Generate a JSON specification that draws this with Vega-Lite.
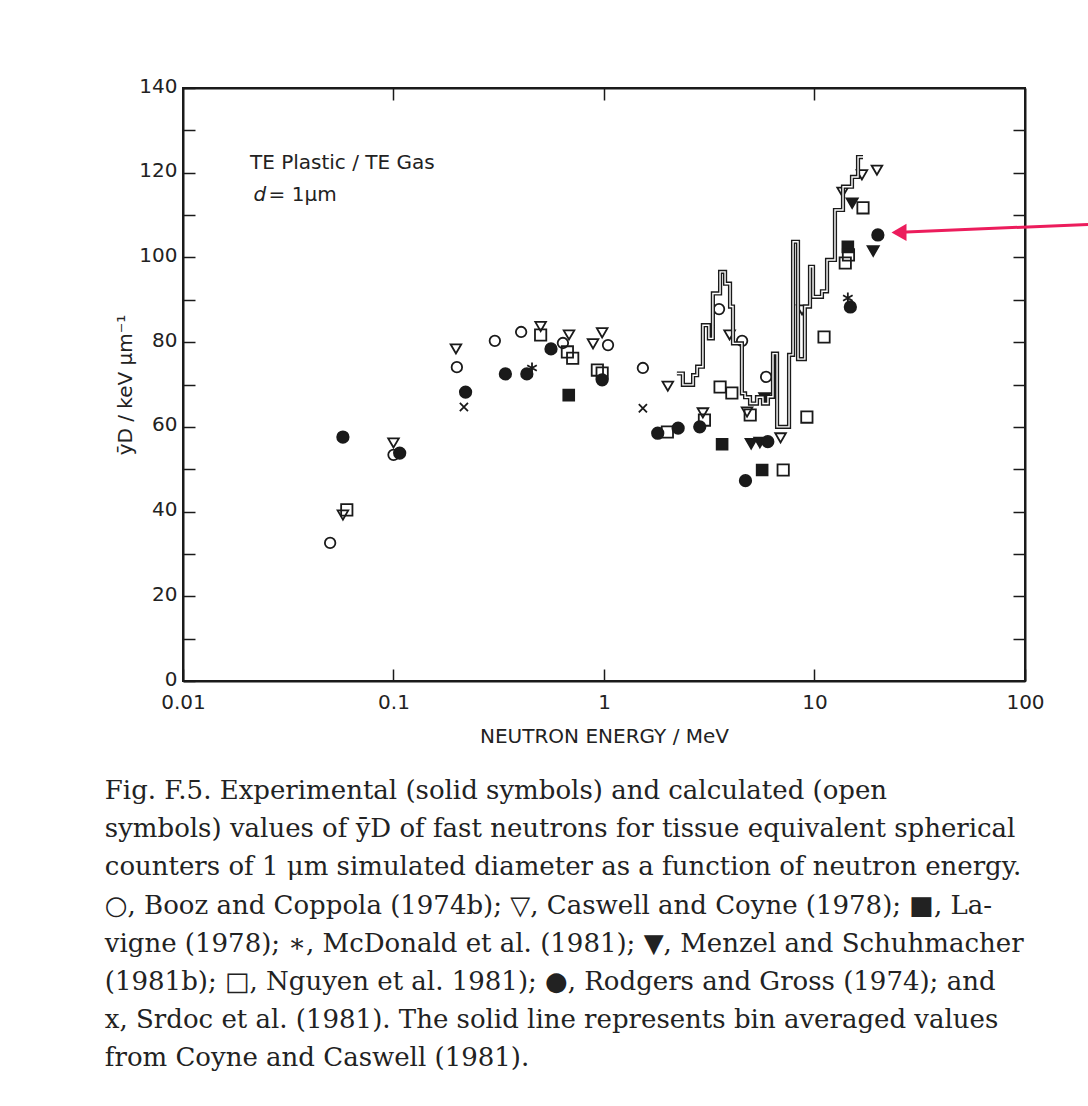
{
  "$schema": "https://vega.github.io/schema/vega-lite/v6.json",
  "width": 842,
  "height": 593,
  "autosize": "none",
  "padding": {"left": 183, "top": 88, "right": 63, "bottom": 425},
  "background": "white",
  "config": {
    "view": {"stroke": "#1a1a1a", "strokeWidth": 2},
    "font": "DejaVu Sans"
  },
  "title": {
    "text": [
      "Fig. F.5.   Experimental (solid symbols) and calculated (open",
      "symbols) values of ȳD of fast neutrons for tissue equivalent spherical",
      "counters of 1 μm simulated diameter as a function of neutron energy.",
      "○, Booz and Coppola (1974b); ▽, Caswell and Coyne (1978); ■, La-",
      "vigne (1978); ∗, McDonald et al. (1981); ▼, Menzel and Schuhmacher",
      "(1981b); □, Nguyen et al. 1981); ●, Rodgers and Gross (1974); and",
      "x, Srdoc et al. (1981). The solid line represents bin averaged values",
      "from Coyne and Caswell (1981)."
    ],
    "orient": "bottom",
    "anchor": "start",
    "dx": -11,
    "offset": 32,
    "font": "DejaVu Serif",
    "fontSize": 26,
    "fontWeight": "normal",
    "lineHeight": 38.2,
    "color": "#222222"
  },
  "datasets": {
    "points": [
      {"E": 0.05, "v": 32.6, "s": "Booz"},
      {"E": 0.1, "v": 53.4, "s": "Booz"},
      {"E": 0.2, "v": 74.1, "s": "Booz"},
      {"E": 0.303, "v": 80.3, "s": "Booz"},
      {"E": 0.404, "v": 82.4, "s": "Booz"},
      {"E": 0.638, "v": 79.8, "s": "Booz"},
      {"E": 1.045, "v": 79.3, "s": "Booz"},
      {"E": 1.53, "v": 73.9, "s": "Booz"},
      {"E": 3.52, "v": 87.8, "s": "Booz"},
      {"E": 4.53, "v": 80.3, "s": "Booz"},
      {"E": 5.89, "v": 71.8, "s": "Booz"},
      {"E": 0.0575, "v": 39.2, "s": "Caswell"},
      {"E": 0.1, "v": 56.2, "s": "Caswell"},
      {"E": 0.198, "v": 78.4, "s": "Caswell"},
      {"E": 0.5, "v": 83.7, "s": "Caswell"},
      {"E": 0.682, "v": 81.7, "s": "Caswell"},
      {"E": 0.887, "v": 79.6, "s": "Caswell"},
      {"E": 0.98, "v": 82.2, "s": "Caswell"},
      {"E": 2.01, "v": 69.6, "s": "Caswell"},
      {"E": 2.95, "v": 63.3, "s": "Caswell"},
      {"E": 3.95, "v": 81.7, "s": "Caswell"},
      {"E": 4.78, "v": 63.5, "s": "Caswell"},
      {"E": 6.9, "v": 57.4, "s": "Caswell"},
      {"E": 8.73, "v": 87.6, "s": "Caswell"},
      {"E": 13.6, "v": 115.4, "s": "Caswell"},
      {"E": 16.8, "v": 119.5, "s": "Caswell"},
      {"E": 19.8, "v": 120.6, "s": "Caswell"},
      {"E": 0.68, "v": 67.5, "s": "Lavigne"},
      {"E": 3.64, "v": 55.9, "s": "Lavigne"},
      {"E": 5.64, "v": 49.8, "s": "Lavigne"},
      {"E": 14.4, "v": 102.5, "s": "Lavigne"},
      {"E": 0.455, "v": 73.9, "s": "McDonald"},
      {"E": 14.4, "v": 90.4, "s": "McDonald"},
      {"E": 5.0, "v": 56.0, "s": "Menzel"},
      {"E": 5.5, "v": 56.3, "s": "Menzel"},
      {"E": 5.8, "v": 66.8, "s": "Menzel"},
      {"E": 15.1, "v": 112.8, "s": "Menzel"},
      {"E": 19.0, "v": 101.5, "s": "Menzel"},
      {"E": 0.06, "v": 40.4, "s": "Nguyen"},
      {"E": 0.5, "v": 81.7, "s": "Nguyen"},
      {"E": 0.67, "v": 77.7, "s": "Nguyen"},
      {"E": 0.71, "v": 76.2, "s": "Nguyen"},
      {"E": 0.93, "v": 73.4, "s": "Nguyen"},
      {"E": 0.98, "v": 72.7, "s": "Nguyen"},
      {"E": 2.0, "v": 58.8, "s": "Nguyen"},
      {"E": 3.0, "v": 61.6, "s": "Nguyen"},
      {"E": 3.56, "v": 69.4, "s": "Nguyen"},
      {"E": 4.05, "v": 68.0, "s": "Nguyen"},
      {"E": 4.95, "v": 62.8, "s": "Nguyen"},
      {"E": 7.1, "v": 49.8, "s": "Nguyen"},
      {"E": 9.2, "v": 62.3, "s": "Nguyen"},
      {"E": 11.1, "v": 81.2, "s": "Nguyen"},
      {"E": 14.0, "v": 98.7, "s": "Nguyen"},
      {"E": 14.5, "v": 100.6, "s": "Nguyen"},
      {"E": 17.0, "v": 111.7, "s": "Nguyen"},
      {"E": 0.0575, "v": 57.6, "s": "Rodgers"},
      {"E": 0.107, "v": 53.8, "s": "Rodgers"},
      {"E": 0.22, "v": 68.2, "s": "Rodgers"},
      {"E": 0.34, "v": 72.5, "s": "Rodgers"},
      {"E": 0.43, "v": 72.5, "s": "Rodgers"},
      {"E": 0.56, "v": 78.4, "s": "Rodgers"},
      {"E": 0.98, "v": 71.1, "s": "Rodgers"},
      {"E": 1.8, "v": 58.5, "s": "Rodgers"},
      {"E": 2.25, "v": 59.7, "s": "Rodgers"},
      {"E": 2.85, "v": 60.0, "s": "Rodgers"},
      {"E": 4.7, "v": 47.3, "s": "Rodgers"},
      {"E": 6.0, "v": 56.5, "s": "Rodgers"},
      {"E": 14.8, "v": 88.3, "s": "Rodgers"},
      {"E": 20.0, "v": 105.3, "s": "Rodgers"},
      {"E": 0.216, "v": 64.7, "s": "Srdoc"},
      {"E": 1.53, "v": 64.4, "s": "Srdoc"}
    ],
    "hist": [
      {"E": 2.22, "v": 72.6},
      {"E": 2.37, "v": 69.9},
      {"E": 2.65, "v": 72.2},
      {"E": 2.77, "v": 74.2},
      {"E": 2.95, "v": 84.0},
      {"E": 3.15, "v": 80.9},
      {"E": 3.29, "v": 91.5},
      {"E": 3.56, "v": 96.6},
      {"E": 3.76, "v": 93.8},
      {"E": 3.97, "v": 88.4},
      {"E": 4.10, "v": 79.7},
      {"E": 4.52, "v": 67.9},
      {"E": 4.68, "v": 67.0},
      {"E": 4.94, "v": 65.5},
      {"E": 5.33, "v": 67.0},
      {"E": 5.69, "v": 65.5},
      {"E": 6.01, "v": 67.1},
      {"E": 6.35, "v": 77.3},
      {"E": 6.64, "v": 60.0},
      {"E": 7.57, "v": 77.0},
      {"E": 7.91, "v": 103.7},
      {"E": 8.35, "v": 76.0},
      {"E": 9.0, "v": 88.4},
      {"E": 9.52, "v": 97.8},
      {"E": 9.84, "v": 90.7},
      {"E": 10.85, "v": 92.0},
      {"E": 11.47, "v": 99.4},
      {"E": 12.51, "v": 111.2},
      {"E": 13.66, "v": 116.7},
      {"E": 15.07, "v": 119.0},
      {"E": 16.1, "v": 123.7},
      {"E": 17.0, "v": 123.7}
    ],
    "arrow": [
      {"E": 200, "v": 107.8, "E2": 24, "v2": 105.9}
    ],
    "head": [
      {"E": 25.2, "v": 105.9}
    ]
  },
  "resolve": {"axis": {"x": "independent", "y": "independent"}},
  "layer": [
    {
      "data": {"name": "points"},
      "mark": {"type": "point", "strokeWidth": 1.8, "stroke": "#1a1a1a", "opacity": 1},
      "encoding": {
        "x": {
          "field": "E", "type": "quantitative",
          "scale": {"type": "log", "domain": [0.01, 100]},
          "axis": {
            "orient": "bottom",
            "values": [0.01, 0.1, 1, 10, 100],
            "labelExpr": "datum.value == 0.01 ? '0.01' : datum.value == 0.1 ? '0.1' : datum.label",
            "tickSize": -12, "tickWidth": 1.5, "tickColor": "#1a1a1a",
            "domainColor": "#1a1a1a", "domainWidth": 2,
            "labelFont": "DejaVu Sans", "labelFontSize": 20, "labelColor": "#222222",
            "labelPadding": 23, "labelFlush": false,
            "grid": false,
            "title": "NEUTRON ENERGY / MeV",
            "titleFont": "DejaVu Sans", "titleFontSize": 20, "titleFontWeight": "normal",
            "titleColor": "#222222", "titlePadding": 14
          }
        },
        "y": {
          "field": "v", "type": "quantitative",
          "scale": {"domain": [0, 140]},
          "axis": {
            "orient": "left",
            "values": [0, 10, 20, 30, 40, 50, 60, 70, 80, 90, 100, 110, 120, 130, 140],
            "labelExpr": "datum.value % 20 == 0 ? datum.label : ''",
            "tickSize": -12, "tickWidth": 1.5, "tickColor": "#1a1a1a",
            "domainColor": "#1a1a1a", "domainWidth": 2,
            "labelFont": "DejaVu Sans", "labelFontSize": 20, "labelColor": "#222222",
            "labelPadding": 18, "labelOffset": -2, "labelFlush": false,
            "grid": false,
            "title": "ȳD / keV µm⁻¹",
            "titleFont": "DejaVu Sans", "titleFontSize": 20, "titleFontWeight": "normal",
            "titleColor": "#222222", "titlePadding": 3
          }
        },
        "shape": {
          "field": "s", "type": "nominal",
          "scale": {
            "domain": ["Booz", "Caswell", "Lavigne", "McDonald", "Menzel", "Nguyen", "Rodgers", "Srdoc"],
            "range": ["circle", "triangle-down", "square", "M0,-1L0,1M-0.87,-0.5L0.87,0.5M-0.87,0.5L0.87,-0.5", "triangle-down", "square", "circle", "M-0.7,-0.7L0.7,0.7M-0.7,0.7L0.7,-0.7"]
          },
          "legend": null
        },
        "fill": {
          "field": "s", "type": "nominal",
          "scale": {
            "domain": ["Booz", "Caswell", "Lavigne", "McDonald", "Menzel", "Nguyen", "Rodgers", "Srdoc"],
            "range": ["transparent", "transparent", "#1a1a1a", "transparent", "#1a1a1a", "transparent", "#1a1a1a", "transparent"]
          },
          "legend": null
        },
        "size": {
          "field": "s", "type": "nominal",
          "scale": {
            "domain": ["Booz", "Caswell", "Lavigne", "McDonald", "Menzel", "Nguyen", "Rodgers", "Srdoc"],
            "range": [110, 135, 115, 75, 135, 115, 115, 60]
          },
          "legend": null
        }
      }
    },
    {
      "data": {"name": "hist"},
      "mark": {"type": "line", "interpolate": "step-after", "stroke": "#1a1a1a", "strokeWidth": 4.2},
      "encoding": {
        "x": {
          "field": "E", "type": "quantitative",
          "scale": {"type": "log", "domain": [0.01, 100]},
          "axis": {
            "orient": "top", "values": [0.1, 1, 10], "labels": false,
            "tickSize": -12, "tickWidth": 1.5, "tickColor": "#1a1a1a",
            "domainColor": "#1a1a1a", "domainWidth": 2, "grid": false, "title": null
          }
        },
        "y": {
          "field": "v", "type": "quantitative",
          "scale": {"domain": [0, 140]},
          "axis": {
            "orient": "right",
            "values": [10, 20, 30, 40, 50, 60, 70, 80, 90, 100, 110, 120, 130],
            "labels": false,
            "tickSize": -12, "tickWidth": 1.5, "tickColor": "#1a1a1a",
            "domainColor": "#1a1a1a", "domainWidth": 2, "grid": false, "title": null
          }
        }
      }
    },
    {
      "data": {"name": "hist"},
      "mark": {"type": "line", "interpolate": "step-after", "stroke": "white", "strokeWidth": 1.4},
      "encoding": {
        "x": {"field": "E", "type": "quantitative", "scale": {"type": "log", "domain": [0.01, 100]}, "axis": null},
        "y": {"field": "v", "type": "quantitative", "scale": {"domain": [0, 140]}, "axis": null}
      }
    },
    {
      "data": {"values": [{"E": 0.0208, "v": 122.3, "t": "TE Plastic / TE Gas"}, {"E": 0.0255, "v": 114.7, "t": "= 1μm"}]},
      "mark": {"type": "text", "align": "left", "baseline": "middle", "font": "DejaVu Sans", "fontSize": 20, "color": "#222222"},
      "encoding": {
        "x": {"field": "E", "type": "quantitative", "scale": {"type": "log", "domain": [0.01, 100]}, "axis": null},
        "y": {"field": "v", "type": "quantitative", "scale": {"domain": [0, 140]}, "axis": null},
        "text": {"field": "t"}
      }
    },
    {
      "data": {"values": [{"E": 0.0216, "v": 114.7, "t": "d"}]},
      "mark": {"type": "text", "align": "left", "baseline": "middle", "font": "DejaVu Sans", "fontStyle": "italic", "fontSize": 20, "color": "#222222"},
      "encoding": {
        "x": {"field": "E", "type": "quantitative", "scale": {"type": "log", "domain": [0.01, 100]}, "axis": null},
        "y": {"field": "v", "type": "quantitative", "scale": {"domain": [0, 140]}, "axis": null},
        "text": {"field": "t"}
      }
    },
    {
      "data": {"name": "arrow"},
      "mark": {"type": "rule", "color": "#ec1c5c", "strokeWidth": 3, "clip": false},
      "encoding": {
        "x": {"field": "E", "type": "quantitative", "scale": {"type": "log", "domain": [0.01, 100]}, "axis": null},
        "y": {"field": "v", "type": "quantitative", "scale": {"domain": [0, 140]}, "axis": null},
        "x2": {"field": "E2"},
        "y2": {"field": "v2"}
      }
    },
    {
      "data": {"name": "head"},
      "mark": {"type": "point", "shape": "triangle-left", "filled": true, "color": "#ec1c5c", "size": 300, "opacity": 1, "clip": false},
      "encoding": {
        "x": {"field": "E", "type": "quantitative", "scale": {"type": "log", "domain": [0.01, 100]}, "axis": null},
        "y": {"field": "v", "type": "quantitative", "scale": {"domain": [0, 140]}, "axis": null}
      }
    }
  ]
}
